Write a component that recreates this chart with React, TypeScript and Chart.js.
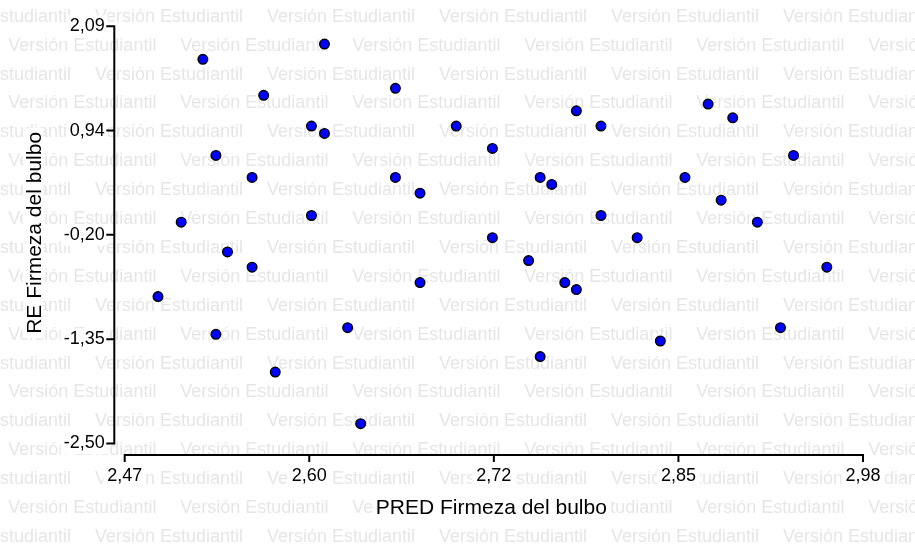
import React, { useEffect, useRef } from "react";
import { Chart, registerables } from "chart.js";

Chart.register(...registerables);

// ---- data ----
const xTickLabels = ["2,47", "2,60", "2,72", "2,85", "2,98"];
const yTickLabels = ["-2,50", "-1,35", "-0,20", "0,94", "2,09"];
const xMin = 2.47;
const xMax = 2.98;
const yMin = -2.5;
const yMax = 2.09;

const predValues = [
  2.524, 2.608, 2.566, 2.657, 2.599, 2.608, 2.699, 2.724, 2.782, 2.799,
  2.873, 2.89, 2.533, 2.558, 2.657, 2.674, 2.757, 2.765, 2.857, 2.882,
  2.932, 2.509, 2.599, 2.724, 2.799, 2.824, 2.907, 2.541, 2.558, 2.493,
  2.674, 2.749, 2.774, 2.782, 2.955, 2.533, 2.624, 2.757, 2.84, 2.923,
  2.574, 2.633,
];
const reValues = [
  1.727, 1.895, 1.33, 1.407, 0.992, 0.911, 0.992, 0.746, 1.16, 0.992,
  1.234, 1.083, 0.669, 0.427, 0.427, 0.254, 0.427, 0.35, 0.427, 0.177,
  0.669, -0.066, 0.008, -0.236, 0.008, -0.236, -0.066, -0.393, -0.561, -0.884,
  -0.73, -0.488, -0.73, -0.807, -0.561, -1.3, -1.226, -1.545, -1.373, -1.226,
  -1.715, -2.283,
];

const xTitle = "PRED Firmeza del bulbo";
const yTitle = "RE Firmeza del bulbo";
const watermarkText = "Versión Estudiantil";

// ---- styles ----
const FONT = '"Liberation Sans", Arial, Helvetica, sans-serif';
const W = 915;
const H = 549;

const evenTicks = (min: number, max: number, n: number) => {
  const out: { value: number }[] = [];
  for (let i = 0; i < n; i++) out.push({ value: min + ((max - min) * i) / (n - 1) });
  return out;
};

const watermarkPlugin = {
  id: "watermark",
  beforeDraw(chart: any) {
    const ctx = chart.ctx;
    ctx.save();
    ctx.fillStyle = "#ffffff";
    ctx.fillRect(0, 0, chart.width, chart.height);
    ctx.font = `18px ${FONT}`;
    ctx.fillStyle = "#e6e6e6";
    ctx.textBaseline = "alphabetic";
    ctx.textAlign = "left";
    for (let r = 0; r < 20; r++) {
      const y = 21.7 + r * 28.9;
      const start = r % 2 === 0 ? 95 - 172 : 8.3;
      for (let x = start; x < chart.width; x += 172) ctx.fillText(watermarkText, x, y);
    }
    ctx.restore();
  },
};

const axesPlugin = {
  id: "offsetAxes",
  afterDraw(chart: any) {
    const { ctx, chartArea: a, scales } = chart;
    const xs = scales.x;
    const ys = scales.y;
    ctx.save();
    ctx.strokeStyle = "#000000";
    ctx.lineWidth = 2;
    ctx.lineCap = "butt";
    // y axis
    const ax = a.left - 10.4;
    ctx.beginPath();
    ctx.moveTo(ax, a.top - 1);
    ctx.lineTo(ax, a.bottom + 1);
    ys.ticks.forEach((t: any) => {
      const py = ys.getPixelForValue(t.value);
      ctx.moveTo(ax - 8, py);
      ctx.lineTo(ax + 1, py);
    });
    ctx.stroke();
    // x axis
    const ay = a.bottom + 11.6;
    ctx.beginPath();
    ctx.moveTo(a.left - 1, ay);
    ctx.lineTo(a.right + 1, ay);
    xs.ticks.forEach((t: any) => {
      const px = xs.getPixelForValue(t.value);
      ctx.moveTo(px, ay - 1);
      ctx.lineTo(px, ay + 7);
    });
    ctx.stroke();

    // titles with white backdrop
    ctx.font = `21px ${FONT}`;
    ctx.textAlign = "center";
    ctx.textBaseline = "alphabetic";
    const tx = (a.left + a.right) / 2 - 2.5;
    const tw = ctx.measureText(xTitle).width;
    ctx.fillStyle = "#ffffff";
    ctx.fillRect(tx - tw / 2 - 4, 496, tw + 8, 24);
    ctx.fillStyle = "#000000";
    ctx.fillText(xTitle, tx, 514);

    const cy = (a.top + a.bottom) / 2 - 2;
    const yw = ctx.measureText(yTitle).width;
    ctx.fillStyle = "#ffffff";
    ctx.fillRect(23, cy - yw / 2 - 4, 20, yw + 8);
    ctx.save();
    ctx.translate(41, cy);
    ctx.rotate(-Math.PI / 2);
    ctx.fillStyle = "#000000";
    ctx.fillText(yTitle, 0, 0);
    ctx.restore();
    ctx.restore();
  },
};

export default function App() {
  const ref = useRef<HTMLCanvasElement | null>(null);

  useEffect(() => {
    if (!ref.current) return;
    const chart = new Chart(ref.current, {
      type: "scatter",
      data: {
        datasets: [
          {
            label: "RE",
            data: predValues.map((x, i) => ({ x, y: reValues[i] })),
            backgroundColor: "#0000ff",
            borderColor: "#000000",
            borderWidth: 1.4,
            pointRadius: 4.8,
            pointHoverRadius: 4.8,
          },
        ],
      },
      options: {
        animation: false,
        responsive: false,
        devicePixelRatio: 1,
        layout: { padding: { left: 0, right: 52, top: 26.3, bottom: 0 } },
        plugins: {
          legend: { display: false },
          tooltip: { enabled: false },
          title: { display: false },
        },
        scales: {
          x: {
            type: "linear",
            min: xMin,
            max: xMax,
            afterFit: (s: any) => {
              s.height = 105.6;
              s.paddingLeft = 0;
              s.paddingRight = 0;
            },
            afterBuildTicks: (s: any) => {
              s.ticks = evenTicks(xMin, xMax, xTickLabels.length);
            },
            grid: { display: false, drawTicks: false },
            border: { display: false },
            ticks: {
              padding: 22,
              color: "#000000",
              font: { family: FONT, size: 18 },
              maxRotation: 0,
              autoSkip: false,
              showLabelBackdrop: true,
              backdropColor: "#ffffff",
              backdropPadding: { top: 0, bottom: 0, left: 4, right: 4 },
              callback: (_v: any, i: number) => xTickLabels[i],
            },
          },
          y: {
            type: "linear",
            min: yMin,
            max: yMax,
            afterFit: (s: any) => {
              s.width = 124.7;
              s.paddingTop = 0;
              s.paddingBottom = 0;
            },
            afterBuildTicks: (s: any) => {
              s.ticks = evenTicks(yMin, yMax, yTickLabels.length);
            },
            grid: { display: false, drawTicks: false },
            border: { display: false },
            ticks: {
              padding: 20,
              color: "#000000",
              font: { family: FONT, size: 18 },
              autoSkip: false,
              showLabelBackdrop: true,
              backdropColor: "#ffffff",
              backdropPadding: { top: 0, bottom: 0, left: 3, right: 3 },
              callback: (_v: any, i: number) => yTickLabels[i],
            },
          },
        },
      } as any,
      plugins: [watermarkPlugin, axesPlugin],
    });
    return () => chart.destroy();
  }, []);

  return (
    <div style={{ position: "fixed", left: 0, top: 0, width: W, height: H, background: "#fff" }}>
      <canvas ref={ref} width={W} height={H} style={{ display: "block", width: W, height: H }} />
    </div>
  );
}
